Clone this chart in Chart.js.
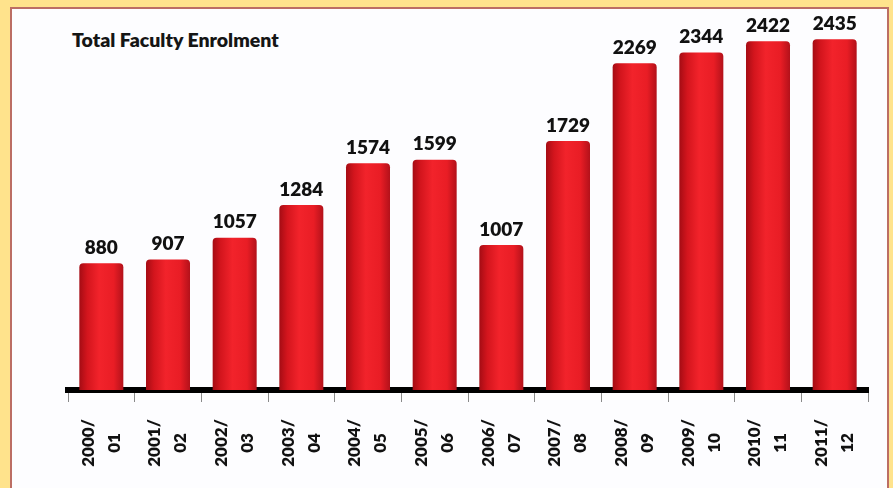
<!DOCTYPE html>
<html>
<head>
<meta charset="utf-8">
<script src="https://cdn.jsdelivr.net/npm/chart.js@4.4.1/dist/chart.umd.min.js"></script>
<style>
  html, body { margin: 0; padding: 0; }
  body { width: 893px; height: 488px; background: #FFE38C; position: relative; overflow: hidden; }
  #panel { position: absolute; left: 10px; top: 7px; width: 875px; height: 490px;
           background: #FDFDFF; border: 2px solid #BC6E64; }
  #title { position: absolute; left: 72px; top: 28px; font-family: Lato, "Open Sans", sans-serif;
           font-weight: 800; font-size: 19.5px; color: #151515; white-space: nowrap; }
  #wrap { position: absolute; left: 0; top: 0; width: 893px; height: 488px; }
</style>
</head>
<body>
<div id="panel"></div>
<div id="title">Total Faculty Enrolment</div>
<div id="wrap"><canvas id="c" width="893" height="488"></canvas></div>
<script>
const categories = [
  ['2000/', '01'], ['2001/', '02'], ['2002/', '03'], ['2003/', '04'],
  ['2004/', '05'], ['2005/', '06'], ['2006/', '07'], ['2007/', '08'],
  ['2008/', '09'], ['2009/', '10'], ['2010/', '11'], ['2011/', '12']
];
const enrolment = [880, 907, 1057, 1284, 1574, 1599, 1007, 1729, 2269, 2344, 2422, 2435];
const yMax = 2500;

const BAR_PCT = 0.66;

function barFill(ctx) {
  const chart = ctx.chart;
  const xs = chart.scales && chart.scales.x;
  if (!xs || !chart.chartArea || ctx.type !== 'data') return '#E81C24';
  const cx = xs.getPixelForValue(ctx.dataIndex);
  const w = xs.width / categories.length * BAR_PCT;
  const g = chart.ctx.createLinearGradient(cx - w / 2, 0, cx + w / 2, 0);
  g.addColorStop(0, '#A50C14');
  g.addColorStop(0.18, '#D3151D');
  g.addColorStop(0.45, '#F2232B');
  g.addColorStop(0.78, '#E91D25');
  g.addColorStop(1, '#B3111A');
  return g;
}

const valueLabels = {
  id: 'valueLabels',
  afterDatasetsDraw(chart) {
    const ctx = chart.ctx;
    const meta = chart.getDatasetMeta(0);
    ctx.save();
    ctx.font = '800 19px Lato, "Open Sans", sans-serif';
    ctx.fillStyle = '#111';
    ctx.textAlign = 'center';
    ctx.textBaseline = 'bottom';
    meta.data.forEach((bar, i) => {
      ctx.fillText(String(enrolment[i]), bar.x, bar.y - 6);
    });
    ctx.restore();
  }
};

const xLabels = {
  id: 'xLabels',
  afterDraw(chart) {
    const ctx = chart.ctx;
    const xs = chart.scales.x;
    ctx.save();
    ctx.font = '800 17px Lato, "Open Sans", sans-serif';
    ctx.fillStyle = '#111';
    ctx.textAlign = 'center';
    ctx.textBaseline = 'middle';
    categories.forEach((lines, i) => {
      const x = xs.getPixelForTick(i);
      ctx.save();
      ctx.translate(x, 443);
      ctx.rotate(-Math.PI / 2);
      ctx.fillText(lines[0], 0, -13);
      ctx.fillText(lines[1], 0, 13);
      ctx.restore();
    });
    ctx.restore();
  }
};

new Chart(document.getElementById('c'), {
  type: 'bar',
  data: {
    labels: categories,
    datasets: [{
      data: enrolment,
      backgroundColor: barFill,
      borderWidth: 0,
      borderRadius: { topLeft: 4, topRight: 4, bottomLeft: 0, bottomRight: 0 },
      borderSkipped: 'bottom',
      barPercentage: BAR_PCT,
      categoryPercentage: 1
    }]
  },
  options: {
    responsive: false,
    animation: false,
    layout: { padding: { left: 68, right: 25, top: 30, bottom: 86 } },
    plugins: { legend: { display: false }, tooltip: { enabled: false }, title: { display: false } },
    scales: {
      x: {
        ticks: { display: false },
        grid: { display: true, offset: true, drawOnChartArea: false, drawTicks: true,
                tickLength: 12, color: '#8a8a8a', lineWidth: 1 },
        border: { display: true, color: '#000', width: 6 }
      },
      y: {
        display: false,
        min: 0,
        max: yMax
      }
    }
  },
  plugins: [valueLabels, xLabels]
});
</script>
</body>
</html>
